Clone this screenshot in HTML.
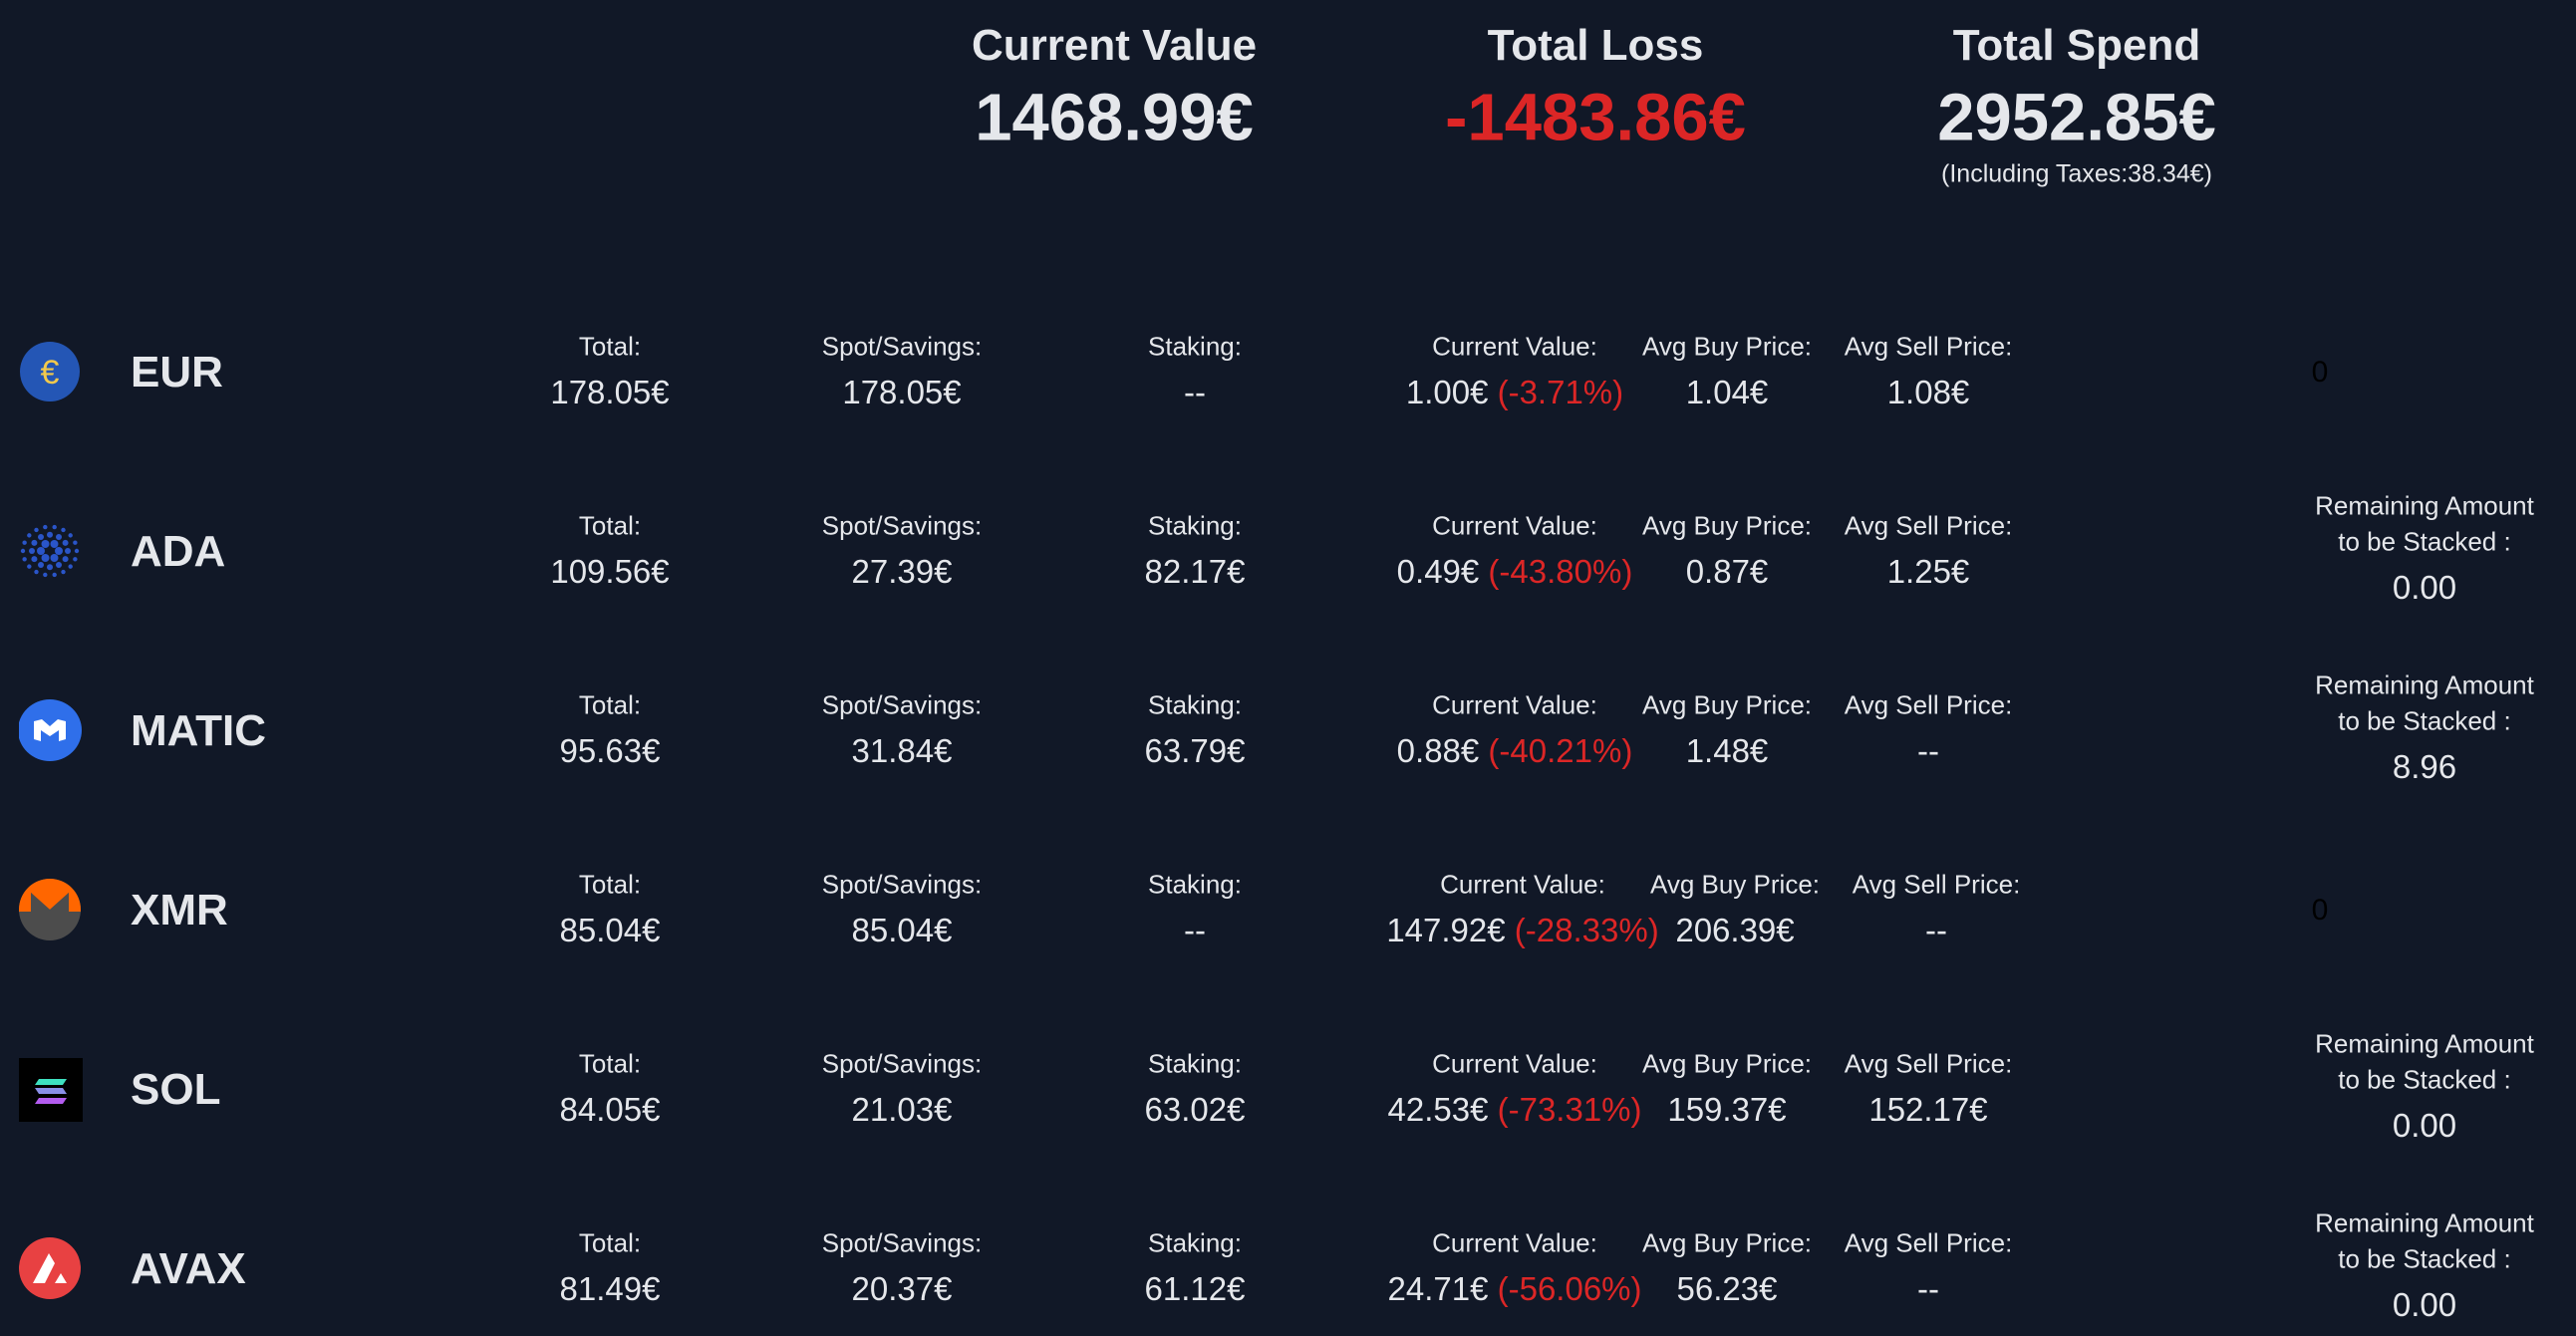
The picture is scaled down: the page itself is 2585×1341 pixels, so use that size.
<!DOCTYPE html>
<html><head><meta charset="utf-8">
<style>
html,body{margin:0;padding:0;}
body{width:2585px;height:1341px;background:#111827;color:#e5e7eb;font-family:"Liberation Sans",sans-serif;position:relative;overflow:hidden;}
.c{position:absolute;transform:translate(-50%,-50%);white-space:nowrap;text-align:center;}
.l{position:absolute;transform:translateY(-50%);white-space:nowrap;}
.t{font-size:44px;font-weight:bold;}
.v{font-size:67px;font-weight:bold;}
.lab{font-size:26px;}
.val{font-size:33px;}
.red{color:#dc2626;}
.tk{font-size:44px;font-weight:bold;}
svg{position:absolute;}
</style></head>
<body>
<div class="c t" style="left:1118px;top:46px">Current Value</div>
<div class="c v" style="left:1118px;top:118px">1468.99€</div>
<div class="c t" style="left:1601px;top:46px">Total Loss</div>
<div class="c v red" style="left:1601px;top:118px">-1483.86€</div>
<div class="c t" style="left:2084px;top:46px">Total Spend</div>
<div class="c v" style="left:2084px;top:118px">2952.85€</div>
<div class="c" style="left:2084px;top:175px;font-size:25px">(Including Taxes:38.34€)</div>
<div id="rows"></div>
<script>
var tickers=["EUR","ADA","MATIC","XMR","SOL","AVAX"];
var totals=["178.05€","109.56€","95.63€","85.04€","84.05€","81.49€"];
var spots=["178.05€","27.39€","31.84€","85.04€","21.03€","20.37€"];
var stakes=["--","82.17€","63.79€","--","63.02€","61.12€"];
var curVals=["1.00€","0.49€","0.88€","147.92€","42.53€","24.71€"];
var changes=["(-3.71%)","(-43.80%)","(-40.21%)","(-28.33%)","(-73.31%)","(-56.06%)"];
var buys=["1.04€","0.87€","1.48€","206.39€","159.37€","56.23€"];
var sells=["1.08€","1.25€","--","--","152.17€","--"];
var remaining=[null,"0.00","8.96",null,"0.00","0.00"];
var icons={
EUR:'<circle cx="31" cy="31" r="30" fill="#2456b5"/><text x="31" y="43" text-anchor="middle" font-size="34" fill="#f2c94c" font-family="Liberation Sans">€</text>',
ADA:(function(){var s='';for(var r=0;r<3;r++){var n=[6,12,18][r],rad=[9,18,27][r],sz=[4,3,2.2][r];for(var i=0;i<n;i++){var a=i*2*Math.PI/n;s+='<circle cx="'+(31+rad*Math.cos(a))+'" cy="'+(31+rad*0.9*Math.sin(a))+'" r="'+sz+'" fill="#2a55c9"/>';}}return s;})(),
MATIC:'<ellipse cx="31" cy="31" rx="32" ry="31" fill="#2f6fea"/><path d="M15 22 L23 20 L31 27 L39 20 L47 22 L47 40 L40 42 L40 31 L31 37 L22 31 L22 42 L15 40Z" fill="#fff"/>',
XMR:'<circle cx="31" cy="31" r="31" fill="#4c4c4c"/><path d="M0 31 A31 31 0 0 1 62 31 L62 33 L50 33 L50 14 L31 31 L12 14 L12 33 L0 33Z" fill="#ff6600"/><path d="M12 14 L31 31 L50 14 L50 33 L62 33 L62 34 L44 34 L44 29 L31 40 L18 29 L18 34 L0 34 L0 33 L12 33Z" fill="#4c4c4c"/>',
SOL:'<rect x="0" y="0" width="68" height="34" fill="#000" transform="scale(1,1.9)"/><path d="M20 21 L48 21 L44 27 L16 27Z" fill="#3ee0c0"/><path d="M16 30 L44 30 L48 36 L20 36Z" fill="#8a8fe8"/><path d="M20 40 L48 40 L44 46 L16 46Z" fill="#b45cf0"/>',
AVAX:'<circle cx="31" cy="31" r="31" fill="#e84142"/><path d="M14 46 L30 16 L36 26 L26 46Z" fill="#fff"/><path d="M36 46 L42 36 L48 46Z" fill="#fff"/>'
};
var root=document.getElementById('rows');
function add(cls,x,y,html,name){
  var d=document.createElement('div');
  d.className=cls;d.style.left=x+'px';d.style.top=y+'px';d.innerHTML=html;
  
  
  root.appendChild(d);return d;
}
for(var i=0;i<tickers.length;i++){
  var y=374+i*180;var k=tickers[i].toLowerCase();var sh=(i==3)?8:0;
  var sv=document.createElementNS('http://www.w3.org/2000/svg','svg');
  sv.setAttribute('width','64');sv.setAttribute('height','64');
  sv.style.left='19px';sv.style.top=(y-32)+'px';sv.innerHTML=icons[tickers[i]];
  
  
  root.appendChild(sv);
  add('l tk',131,y,tickers[i],k+'-ticker');
  var cols=[[612,'Total:',totals[i],'total'],[905,'Spot/Savings:',spots[i],'spot'],[1199,'Staking:',stakes[i],'staking'],
    [1520+sh,'Current Value:',curVals[i]+' <span class="red">'+changes[i]+'</span>','current-value'],
    [1733+sh,'Avg Buy Price:',buys[i],'avg-buy'],[1935+sh,'Avg Sell Price:',sells[i],'avg-sell']];
  for(var j=0;j<cols.length;j++){
    add('c lab',cols[j][0],y-26,cols[j][1],k+'-'+cols[j][3]+'-label');
    add('c val',cols[j][0],y+20,cols[j][2],k+'-'+cols[j][3]+'-value');
  }
  if(remaining[i]===null){
    var z=add('c',2328,y,'0',k+'-remaining-zero');z.style.color='#000';z.style.fontSize='30px';
  }else{
    add('c lab',2433,y-46,'Remaining Amount',k+'-remaining-label');
    add('c lab',2433,y-10,'to be Stacked :',k+'-remaining-label-2');
    add('c val',2433,y+36,remaining[i],k+'-remaining-value');
  }
}
</script>
</body></html>
